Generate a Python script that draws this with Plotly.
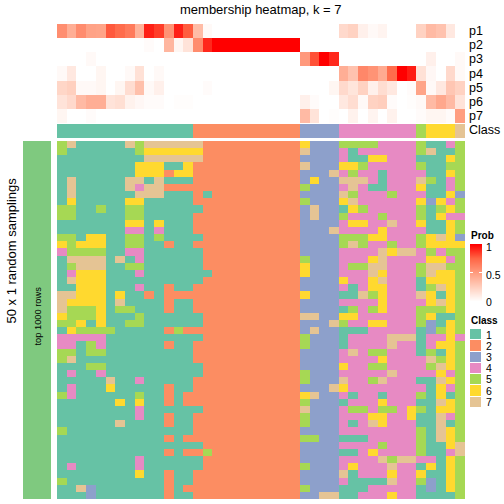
import plotly.graph_objects as go

W = 504
title = "membership heatmap, k = 7"
row_labels = ["p1", "p2", "p3", "p4", "p5", "p6", "p7"]
class_palette = ["#66C2A5", "#FC8D62", "#8DA0CB", "#E78AC3", "#A6D854", "#FFD92F", "#E5C494"]
class_names = ["1", "2", "3", "4", "5", "6", "7"]
prob_scale = [[0, "#FFFFFF"], [0.25, "#FFD0BF"], [0.5, "#FF9E81"], [0.75, "#FF6545"], [1, "#FF0000"]]
prob_ticks = [0, 0.5, 1]
prob_tick_text = ["0", "0.5", "1"]
prob_gradient = [1, 0.75, 0.5, 0.25, 0]

p1 = [.57,.42,.58,.48,.47,.78,.72,.66,.40,.92,.85,.55,.92,.77,.35,.03,0,0,0,0,0,0,0,0,0,0,0,0,0,.2,.24,.08,.03,.06,0,0,0,.24,.36,.32,.12,0]
p2 = [0,0,0,0,0,0,0,0,0,.02,0,.38,.05,.15,.58,.9,1,1,1,1,1,1,1,1,1,0,0,0,0,0,0,0,0,0,0,0,0,0,0,0,0,0]
p3 = [0,0,0,.03,0,0,0,0,0,0,0,0,0,0,0,0,0,0,0,0,0,0,0,0,0,.52,.8,1,.9,0,0,0,0,0,0,0,0,0,.08,0,0,.03]
p4 = [.03,.12,0,0,.05,0,0,.03,.16,0,.03,0,0,0,0,0,0,0,0,0,0,0,0,0,0,0,0,0,0,.42,.32,.6,.55,.44,.72,1,.93,.16,.04,0,.2,.03]
p5 = [.22,.25,.03,.03,.05,0,.05,.18,.33,.03,.08,0,0,0,0,.02,0,0,0,0,0,0,0,0,0,0,0,0,.05,.2,.14,.24,.08,.18,.12,0,.02,.47,.03,.12,.3,.24]
p6 = [.15,.2,.36,.42,.42,.15,.17,.07,.04,.02,.02,0,.01,.01,0,0,0,0,0,0,0,0,0,0,0,.08,.02,0,0,.12,.18,.03,.24,.26,.02,0,.01,.03,.36,.45,.36,.15]
p7 = [.05,0,0,.02,0,0,0,0,0,0,0,0,0,0,0,0,0,0,0,0,0,0,0,0,0,.36,.15,0,.01,0,.07,0,.06,0,.07,0,0,.02,.05,.05,.02,.5]

top_class = [1]*14 + [2]*11 + [3]*4 + [4]*8 + [5] + [6]*3 + [7]

left_cols = [
 "571111175777777","511111115666666","111111111777777","111111116661162","111111116662662",
 "171111177171112","171111174772222","171111117771112","161111166111112","551151155111111",
 "551111155111112","111111166161112","111111144141112","551661155151111","656661155112112",
 "455551144111111","177771714111111","157771155111111","146661114111111","176661111111111",
 "116661114112112","776661611212222","766661711112112","755561551112112","655561115111111",
 "556161155111111","165555111112522","444441111111111","441541111112112","551551111111112",
 "571111111111112","111551111111111","141141111111111","111117114111112","141116111112112",
 "541111115112122","111111616112122","111111114111111","111111114112112","111111711112112",
 "511111111111112","111111111112122","111111111111111","111111111112122","111111114111111",
 "141111114111111","111111116112112","511111111112112","117311111112122","111311111112112",
]
col15 = [2]*50
col15[7] = 1
col15[18] = 1
col15[43] = 5
right_cols = [
 "63335555444451145","73334144444457115","33334116644411165","73336654444451155","33374544144441165",
 "36337774144475145","53334741144461145","33337544454441163","53336744444463645","37331654444451565",
 "37335444544451644","33334664474461165","33374444644441165","33335556644456763","33335754454456666",
 "33334444767745455","53334446744446645","63334557744457755","63334447644457665","33336446744416665",
 "33334146644415765","63331175644476165","33334444644446765","33331545644455565","77336644444456115",
 "33375446644453165","37331114444413565","53331444477714464","53331444474414665","33334745544415165",
 "33334444644447565","33336445544445765","53334444474444645","53337445744411765","33376444444441645",
 "67334144144451615","53331444644411765","73334554554651665","53334446644611745","53334147644411715",
 "33334444444451765","55331114444451765","33334444544451167","33331146444451147","33334444757744165",
 "53334644474416165","33337144464461165","33334111174453165","53331114444413165","33771144464411115",
]

matrix = [[int(c) for c in a] + [b] + [2]*9 + [int(c) for c in d]
          for a, b, d in zip(left_cols, col15, right_cols)]
n_cols = len(matrix[0])
xs = list(range(n_cols))
ys = list(range(len(matrix)))

def discrete(colors):
    n = len(colors)
    out = []
    for i, c in enumerate(colors):
        out += [[i / n, c], [(i + 1) / n, c]]
    return out

class_scale = discrete(class_palette)
fig = go.Figure()

def dom_x(a, b):
    return [a / W, b / W]

def dom_y(t, b):
    return [1 - b / W, 1 - t / W]

def add_axes(n, dx, dy):
    k = "" if n == 1 else str(n)
    fig.update_layout({
        "xaxis" + k: dict(domain=dx, visible=False, anchor="y" + k, fixedrange=True),
        "yaxis" + k: dict(domain=dy, visible=False, anchor="x" + k, autorange="reversed", fixedrange=True),
    })

X0, X1 = 57, 465

# probabilities
fig.add_trace(go.Heatmap(z=[p1, p2, p3, p4, p5, p6, p7], x=xs, y=row_labels,
                         colorscale=prob_scale, zmin=0, zmax=1, showscale=False, xaxis="x", yaxis="y"))
add_axes(1, dom_x(X0, X1), dom_y(24, 123))

# class annotation
fig.add_trace(go.Heatmap(z=[top_class], x=xs, y=["Class"], colorscale=class_scale, zmin=.5, zmax=7.5,
                         showscale=False, xaxis="x2", yaxis="y2"))
add_axes(2, dom_x(X0, X1), dom_y(124, 138))

# main
fig.add_trace(go.Heatmap(z=matrix, x=xs, y=ys, colorscale=class_scale, zmin=.5, zmax=7.5,
                         showscale=False, xaxis="x3", yaxis="y3"))
add_axes(3, dom_x(X0, X1), dom_y(141, 499))

# left group bar
fig.add_trace(go.Heatmap(z=[[1]], colorscale=[[0, "#7FC97F"], [1, "#7FC97F"]], showscale=False,
                         xaxis="x4", yaxis="y4"))
add_axes(4, dom_x(23, 51), dom_y(141, 499))

# class legend
fig.add_trace(go.Heatmap(z=[[i + 1] for i in range(7)], y=class_names, x=["c"], colorscale=class_scale,
                         zmin=.5, zmax=7.5, showscale=False, xgap=1, ygap=1, xaxis="x5", yaxis="y5"))
add_axes(5, dom_x(470, 482), dom_y(329, 408))

# probability legend: gradient bar on its own axis
fig.add_trace(go.Heatmap(z=[[v] for v in prob_gradient], y=prob_gradient, x=["g"], colorscale=prob_scale,
                         zmin=0, zmax=1, zsmooth="best", showscale=False, xaxis="x6", yaxis="y6"))
fig.update_layout(
    xaxis6=dict(domain=dom_x(470, 482), visible=False, anchor="y6", fixedrange=True),
    yaxis6=dict(domain=dom_y(244, 301), anchor="x6", side="right", range=[0, 1], fixedrange=True,
                tickvals=prob_ticks, showticklabels=False, ticks="inside", ticklen=3, tickwidth=1,
                tickcolor="#FFFFFF", mirror="ticks", showline=False, showgrid=False, zeroline=False),
)

def text(s, x, y, size, xanchor="center", **kw):
    fig.add_annotation(text=s, x=x / W, y=1 - y / W, xref="paper", yref="paper", showarrow=False,
                       xanchor=xanchor, yanchor="middle", borderpad=0,
                       font=dict(family="Liberation Sans", size=size, color="#000000"), **kw)

text(title, 261, 9, 13)
for i, lab in enumerate(row_labels + ["Class"]):
    text(lab, 468, 31 + i * 14.17, 12.5, xanchor="left")
text("50 x 1 random samplings", 10.5, 251, 13, textangle=-90)
text("top 1000 rows", 37.5, 316, 9.3, textangle=-90)
text("<b>Prob</b>", 470, 235, 10, xanchor="left")
text("<b>Class</b>", 470, 320, 10, xanchor="left")
for v, lab, y in zip(prob_ticks, prob_tick_text, [302, 275, 247]):
    text(lab, 485, y, 10.5, xanchor="left")
for i, name in enumerate(class_names):
    text(name, 485, 334.6 + i * 11.2, 10.5, xanchor="left")

fig.update_layout(width=W, height=W, margin=dict(l=0, r=0, t=0, b=0, pad=0),
                  paper_bgcolor="#FFFFFF", plot_bgcolor="#FFFFFF", showlegend=False)
fig.write_html("out.html", config=dict(displayModeBar=False),
               post_script="document.body.style.margin='0';")
